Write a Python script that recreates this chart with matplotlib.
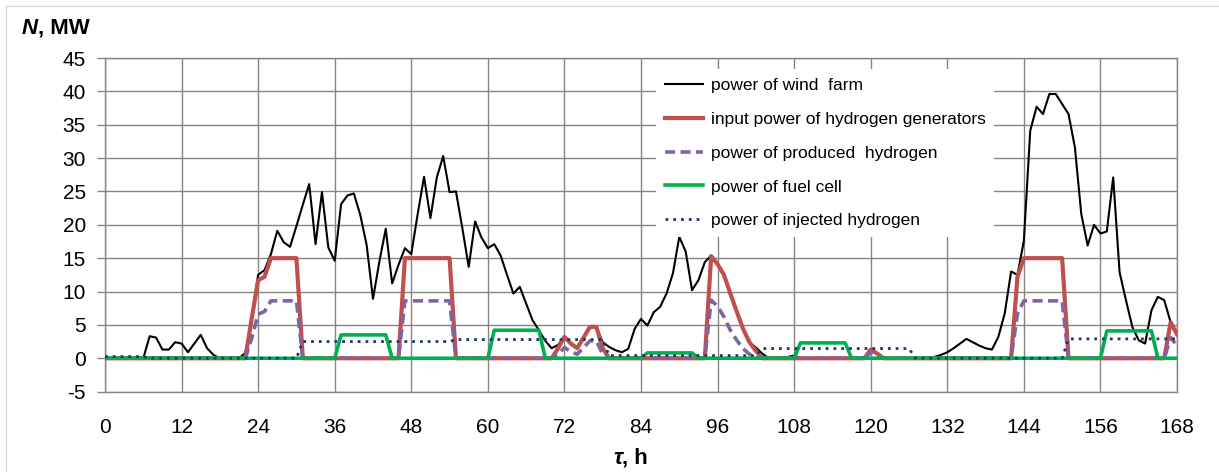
import matplotlib
matplotlib.use('Agg')
import matplotlib.pyplot as plt
from matplotlib.lines import Line2D

plt.rcParams['font.family'] = ['Liberation Sans', 'DejaVu Sans']
plt.rcParams['axes.unicode_minus'] = False

# hourly time axis, one week
hours = list(range(0, 169))

# power of wind farm, MW
wind_farm = [
    0, 0, 0, 0, 0, 0, 0, 3.3, 3.1, 1.3, 1.3, 2.4,
    2.2, 0.9, 2.2, 3.5, 1.5, 0.5, 0, 0, 0, 0, 0.8, 6.0,
    12.5, 13.2, 15.6, 19.1, 17.4, 16.7, 19.8, 23.0, 26.1, 17.1, 24.9, 16.6,
    14.6, 23.1, 24.4, 24.7, 21.5, 17.0, 8.9, 14.5, 19.4, 11.2, 14.0, 16.5,
    15.6, 21.6, 27.2, 21.0, 27.1, 30.3, 24.9, 25.0, 19.5, 13.7, 20.5, 18.1,
    16.5, 17.1, 15.4, 12.5, 9.7, 10.7, 8.2, 5.7, 4.2, 2.6, 1.5, 2.0,
    3.2, 2.3, 1.6, 3.2, 4.8, 4.7, 2.4, 1.7, 1.2, 0.9, 1.4, 4.4,
    5.9, 4.9, 6.9, 7.7, 9.7, 12.7, 18.2, 16.0, 10.2, 11.7, 14.4, 15.4,
    14.1, 12.5, 9.7, 7.0, 4.4, 2.4, 1.6, 0.7, 0, 0, 0, 0.2,
    0.4, 0, 0, 0, 0, 0, 0, 0, 0, 0, 0, 0.1,
    1.3, 0.8, 0, 0, 0, 0, 0, 0, 0, 0, 0.2, 0.5,
    0.9, 1.5, 2.2, 2.9, 2.4, 1.9, 1.5, 1.3, 3.2, 6.7, 13.0, 12.5,
    17.6, 34.1, 37.7, 36.6, 39.6, 39.6, 38.1, 36.6, 31.6, 21.6, 16.9, 20.0,
    18.7, 19.0, 27.1, 12.9, 8.7, 4.7, 2.7, 2.2, 7.2, 9.2, 8.7, 5.4,
    3.6]

# input power of hydrogen generators, MW
h2_input = [
    0, 0, 0, 0, 0, 0, 0, 0, 0, 0, 0, 0,
    0, 0, 0, 0, 0, 0, 0, 0, 0, 0, 0, 6.0,
    11.7, 12.2, 15, 15, 15, 15, 15, 0, 0, 0, 0, 0,
    0, 0, 0, 0, 0, 0, 0, 0, 0, 0, 0, 15,
    15, 15, 15, 15, 15, 15, 15, 0, 0, 0, 0, 0,
    0, 0, 0, 0, 0, 0, 0, 0, 0, 0, 0, 1.5,
    3.2, 2.2, 1.5, 3.1, 4.7, 4.7, 1.5, 0, 0, 0, 0, 0,
    0, 0, 0, 0, 0, 0, 0, 0, 0, 0, 0, 15.3,
    14.1, 12.5, 9.7, 7.0, 4.4, 2.4, 1.1, 0, 0, 0, 0, 0,
    0, 0, 0, 0, 0, 0, 0, 0, 0, 0, 0, 0,
    1.3, 0.7, 0, 0, 0, 0, 0, 0, 0, 0, 0, 0,
    0, 0, 0, 0, 0, 0, 0, 0, 0, 0, 0, 12.2,
    15, 15, 15, 15, 15, 15, 15, 0, 0, 0, 0, 0,
    0, 0, 0, 0, 0, 0, 0, 0, 0, 0, 0, 5.4,
    3.6]

# power of produced hydrogen, MW
h2_produced = [
    0, 0, 0, 0, 0, 0, 0, 0, 0, 0, 0, 0,
    0, 0, 0, 0, 0, 0, 0, 0, 0, 0, 0, 3.0,
    6.6, 7.0, 8.6, 8.6, 8.6, 8.6, 8.6, 0, 0, 0, 0, 0,
    0, 0, 0, 0, 0, 0, 0, 0, 0, 0, 0, 8.6,
    8.6, 8.6, 8.6, 8.6, 8.6, 8.6, 8.6, 0, 0, 0, 0, 0,
    0, 0, 0, 0, 0, 0, 0, 0, 0, 0, 0, 0.6,
    1.6, 1.0, 0.6, 1.6, 2.6, 2.6, 0.6, 0, 0, 0, 0, 0,
    0, 0, 0, 0, 0, 0, 0, 0, 0, 0, 0, 8.7,
    7.8, 6.2, 4.2, 2.7, 1.45, 0.6, 0.1, 0, 0, 0, 0, 0,
    0, 0, 0, 0, 0, 0, 0, 0, 0, 0, 0, 0,
    0.8, 0.4, 0, 0, 0, 0, 0, 0, 0, 0, 0, 0,
    0, 0, 0, 0, 0, 0, 0, 0, 0, 0, 0, 6.7,
    8.6, 8.6, 8.6, 8.6, 8.6, 8.6, 8.6, 0, 0, 0, 0, 0,
    0, 0, 0, 0, 0, 0, 0, 0, 0, 0, 0, 3.1,
    1.9]

# power of fuel cell, MW
fuel_cell = [
    0, 0, 0, 0, 0, 0, 0, 0, 0, 0, 0, 0,
    0, 0, 0, 0, 0, 0, 0, 0, 0, 0, 0, 0,
    0, 0, 0, 0, 0, 0, 0, 0, 0, 0, 0, 0,
    0, 3.5, 3.5, 3.5, 3.5, 3.5, 3.5, 3.5, 3.5, 0, 0, 0,
    0, 0, 0, 0, 0, 0, 0, 0, 0, 0, 0, 0,
    0, 4.2, 4.2, 4.2, 4.2, 4.2, 4.2, 4.2, 4.2, 0, 0, 0,
    0, 0, 0, 0, 0, 0, 0, 0, 0, 0, 0, 0,
    0, 0.8, 0.8, 0.8, 0.8, 0.8, 0.8, 0.8, 0.8, 0, 0, 0,
    0, 0, 0, 0, 0, 0, 0, 0, 0, 0, 0, 0,
    0, 2.3, 2.3, 2.3, 2.3, 2.3, 2.3, 2.3, 2.3, 0, 0, 0,
    0, 0, 0, 0, 0, 0, 0, 0, 0, 0, 0, 0,
    0, 0, 0, 0, 0, 0, 0, 0, 0, 0, 0, 0,
    0, 0, 0, 0, 0, 0, 0, 0, 0, 0, 0, 0,
    0, 4.1, 4.1, 4.1, 4.1, 4.1, 4.1, 4.1, 4.1, 0, 0, 0,
    0]

# power of injected hydrogen, MW
h2_injected = [
    0.25, 0.25, 0.25, 0.25, 0.25, 0.25, 0.25, 0, 0, 0, 0, 0,
    0, 0, 0, 0, 0, 0, 0, 0, 0, 0, 0, 0,
    0, 0, 0, 0, 0, 0, 0, 2.5, 2.5, 2.5, 2.5, 2.5,
    2.5, 2.5, 2.5, 2.5, 2.5, 2.5, 2.5, 2.5, 2.5, 2.5, 2.5, 2.5,
    2.5, 2.5, 2.5, 2.5, 2.5, 2.5, 2.5, 2.8, 2.8, 2.8, 2.8, 2.8,
    2.8, 2.8, 2.8, 2.8, 2.8, 2.8, 2.8, 2.8, 2.8, 2.8, 2.8, 2.8,
    2.8, 2.8, 2.8, 2.8, 2.8, 2.8, 2.8, 0.4, 0.4, 0.4, 0.4, 0.4,
    0.4, 0.4, 0.4, 0.4, 0.4, 0.4, 0.4, 0.4, 0.4, 0.4, 0.4, 0.4,
    0.4, 0.4, 0.4, 0.4, 0.4, 0.4, 0.4, 1.45, 1.45, 1.45, 1.45, 1.45,
    1.45, 1.45, 1.45, 1.45, 1.45, 1.45, 1.45, 1.45, 1.45, 1.45, 1.45, 1.45,
    1.45, 1.45, 1.45, 1.45, 1.45, 1.45, 1.45, 0, 0, 0, 0, 0,
    0, 0, 0, 0, 0, 0, 0, 0, 0, 0, 0, 0,
    0, 0, 0, 0, 0, 0, 0, 2.9, 2.9, 2.9, 2.9, 2.9,
    2.9, 2.9, 2.9, 2.9, 2.9, 2.9, 2.9, 2.9, 2.9, 2.9, 2.9, 2.9,
    2.9]

x_ticks = list(range(0, 169, 12))
y_ticks = list(range(-5, 46, 5))

labels = ['power of wind  farm',
          'input power of hydrogen generators',
          'power of produced  hydrogen',
          'power of fuel cell',
          'power of injected hydrogen']

GRID = '#868686'
W, H = 1219, 472

fig = plt.figure(figsize=(W / 100, H / 100), dpi=100)
ax = fig.add_axes([105 / W, 1 - 391.6 / H, (1177 - 105) / W, (391.6 - 58) / H])

ax.plot(hours, wind_farm, color='black', lw=1.5, zorder=3, label=labels[0])
ax.plot(hours, h2_input, color='#C0504D', lw=3.0, zorder=4,
        solid_joinstyle='round', label=labels[1])
ax.plot(hours, h2_produced, color='#8064A2', lw=2.6, ls=(0, (2.8, 1.5)),
        zorder=5, label=labels[2])
ax.plot(hours, fuel_cell, color='#00B050', lw=2.6, zorder=6,
        solid_joinstyle='round', label=labels[3])
ax.plot(hours, h2_injected, color='#1F3864', lw=2.0, ls=(0, (1, 1.8)),
        zorder=7, label=labels[4])

ax.set_xlim(0, 168)
ax.set_ylim(-5, 45)
ax.set_xticks(x_ticks)
ax.set_yticks(y_ticks)
ax.grid(True, color=GRID, lw=1.0)
ax.set_axisbelow(True)
for s in ax.spines.values():
    s.set_color(GRID)
    s.set_linewidth(1.0)
ax.tick_params(axis='x', length=0, pad=19, labelsize=15)
ax.tick_params(axis='y', length=5.8, width=1.0, color=GRID, pad=8, labelsize=15)

leg = ax.legend(loc='upper left', bbox_to_anchor=(656 / W, 1 - 69 / H),
                bbox_transform=fig.transFigure, frameon=True, fancybox=False,
                edgecolor='none', facecolor='white', framealpha=1,
                fontsize=12.5, handlelength=2.2, handletextpad=0.45,
                labelspacing=1.08, borderpad=0.5, borderaxespad=0)
leg.set_zorder(10)

# axis captions: italic bold symbol followed by bold units
r = fig.canvas.get_renderer()
t1 = fig.text(22 / W, 1 - 28 / H, 'N', fontsize=16, fontweight='bold',
              fontstyle='italic', va='center', ha='left')
bb = t1.get_window_extent(renderer=r)
fig.text(bb.x1 / W, 1 - 28 / H, ', MW', fontsize=16, fontweight='bold',
         va='center', ha='left')

t2 = fig.text(613 / W, 1 - 458 / H, 'τ', fontsize=16, fontweight='bold',
              fontstyle='italic', va='center', ha='left')
bb = t2.get_window_extent(renderer=r)
fig.text(bb.x1 / W, 1 - 458 / H, ', h', fontsize=16, fontweight='bold',
         va='center', ha='left')

# light chart border
fig.add_artist(Line2D([6 / W, 1], [1 - 6 / H, 1 - 6 / H], color='#D9D9D9', lw=1))
fig.add_artist(Line2D([6 / W, 6 / W], [1 - 6 / H, 0], color='#D9D9D9', lw=1))

fig.savefig('out.png', dpi=100)
